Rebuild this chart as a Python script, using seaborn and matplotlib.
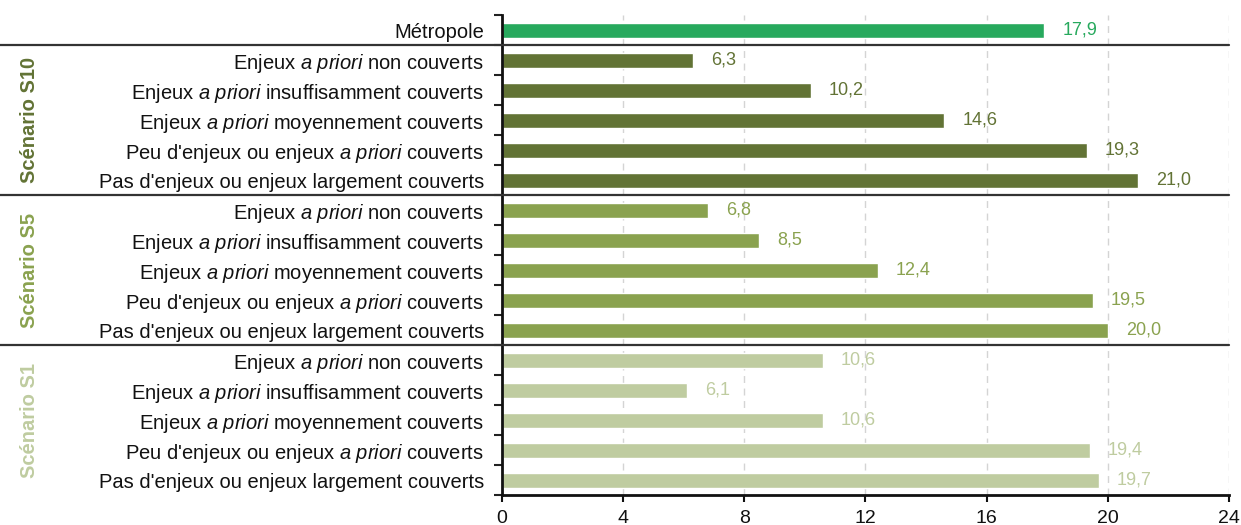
import matplotlib
matplotlib.use("Agg")
import matplotlib.pyplot as plt
import matplotlib.transforms as mtransforms
import seaborn as sns
import pandas as pd
import numpy as np

sns.set_theme(style="white")
plt.rcParams["font.family"] = ["Liberation Sans", "DejaVu Sans"]
plt.rcParams["mathtext.fontset"] = "custom"
plt.rcParams["mathtext.rm"] = "Liberation Sans"
plt.rcParams["mathtext.it"] = "Liberation Sans:italic"
plt.rcParams["mathtext.bf"] = "Liberation Sans:bold"

# Categories (same five classes for each scenario)
classes = [
    r"Enjeux $\mathit{a\ priori}$ non couverts",
    r"Enjeux $\mathit{a\ priori}$ insuffisamment couverts",
    r"Enjeux $\mathit{a\ priori}$ moyennement couverts",
    r"Peu d'enjeux ou enjeux $\mathit{a\ priori}$ couverts",
    "Pas d'enjeux ou enjeux largement couverts",
]
groups = ["Métropole", "Scénario S10", "Scénario S5", "Scénario S1"]

metropole = [17.9]
s10 = [6.3, 10.2, 14.6, 19.3, 21.0]
s5 = [6.8, 8.5, 12.4, 19.5, 20.0]
s1 = [10.6, 6.1, 10.6, 19.4, 19.7]

colors = {
    "Métropole": "#27a95d",
    "Scénario S10": "#627335",
    "Scénario S5": "#8aa24f",
    "Scénario S1": "#bfcca0",
}

rows = [("Métropole", "Métropole", metropole[0])]
for g, vals in (("Scénario S10", s10), ("Scénario S5", s5), ("Scénario S1", s1)):
    for c, v in zip(classes, vals):
        rows.append((g, c, v))

df = pd.DataFrame(rows, columns=["groupe", "classe", "valeur"])
df["key"] = [f"{i:02d}" for i in range(len(df))]

fig = plt.figure(figsize=(12.41, 5.25), dpi=100)
ax = fig.add_axes([0.4045, 0.0571, 0.9903 - 0.4045, 0.9714 - 0.0571])

sns.barplot(data=df, y="key", x="valeur", hue="groupe", palette=colors,
            orient="h", width=0.5, dodge=False, legend=False, ax=ax,
            saturation=1)

n = len(df)
ax.set_ylim(n - 0.5, -0.5)
ax.set_xlim(0, 24)
ax.set_xticks(np.arange(0, 25, 4))
ax.set_yticks(np.arange(n))
ax.set_yticklabels(df["classe"], fontsize=14.5, color="#111111")
ax.set_xticklabels([str(t) for t in range(0, 25, 4)], fontsize=14, color="#111111")
ax.set_xlabel("")
ax.set_ylabel("")

# Boundary ticks on the category axis
ax.set_yticks(np.arange(-0.5, n, 1.0), minor=True)
ax.tick_params(axis="y", which="major", length=0, pad=13)
ax.tick_params(axis="y", which="minor", length=6, width=1.5, color="#222222", left=True)
ax.tick_params(axis="x", which="major", length=5, width=1.5, color="#111111",
               bottom=True, pad=6)

ax.grid(axis="x", linestyle=(0, (5, 4)), color="#d4d4d4", linewidth=1)
ax.set_axisbelow(True)

for side in ("top", "right"):
    ax.spines[side].set_visible(False)
for side in ("left", "bottom"):
    ax.spines[side].set_color("#111111")
    ax.spines[side].set_linewidth(2)

# Value labels
for i, r in df.iterrows():
    ax.annotate(f"{r['valeur']:.1f}".replace(".", ","), (r["valeur"], i),
                xytext=(13, 0), textcoords="offset points",
                va="center", ha="left", fontsize=13, color=colors[r["groupe"]])

# Group separators across labels and plot
trans = mtransforms.blended_transform_factory(fig.transFigure, ax.transData)
for y in (0.5, 5.5, 10.5):
    ax.plot([0, 0.9903], [y, y], transform=trans, color="#333333",
            linewidth=1.6, clip_on=False, zorder=5)

# Scenario titles
for gi, g in enumerate(groups[1:]):
    yc = 1 + gi * 5 + 2
    ax.text(0.024, yc, g, transform=trans, rotation=90, ha="center", va="center",
            fontsize=14.5, fontweight="bold", color=colors[g])

fig.savefig("out.png", dpi=100)
